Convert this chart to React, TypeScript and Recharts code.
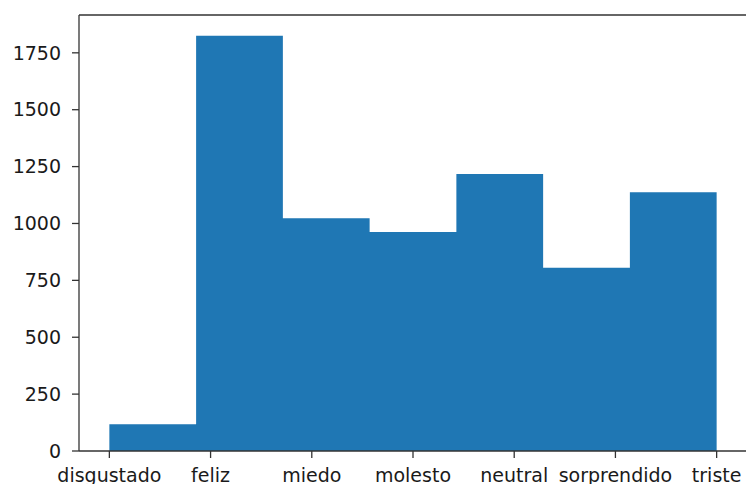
import { AreaChart, Area, XAxis, YAxis, ReferenceLine } from 'recharts'

const categories = ['disgustado', 'feliz', 'miedo', 'molesto', 'neutral', 'sorprendido', 'triste']
const counts = [118, 1825, 1023, 963, 1217, 805, 1137]
const yTicks = [0, 250, 500, 750, 1000, 1250, 1500, 1750]
const xTicks = [0, 1, 2, 3, 4, 5, 6]

// histogram with 7 bins over 0..6 (one per category)
const span = categories.length - 1
const binWidth = span / categories.length
const data = counts
  .map((v, i) => ({ x: i * binWidth, count: v }))
  .concat([{ x: span, count: counts[counts.length - 1] }])

const yMax = Math.max(...counts) * 1.05
const xMin = -span * 0.05
const xMax = span * 1.05

const tickStyle = { fill: '#1a1a1a', fontSize: 19, fontFamily: 'DejaVu Sans' }
const spine = '#333333'

export default function App() {
  return (
    <div style={{ position: 'absolute', left: 0, top: 0, width: 746, height: 484, overflow: 'hidden', background: '#fff' }}>
      <AreaChart width={748} height={484} data={data} margin={{ top: 15, right: 1, left: 0, bottom: 0 }}>
        <XAxis
          dataKey="x"
          type="number"
          domain={[xMin, xMax]}
          ticks={xTicks}
          tickFormatter={(v: number) => categories[v]}
          interval={0}
          allowDataOverflow
          height={33}
          tick={tickStyle}
          tickSize={7}
          tickMargin={11}
          stroke={spine}
          strokeWidth={1.3}
        />
        <YAxis
          type="number"
          domain={[0, yMax]}
          ticks={yTicks}
          allowDataOverflow
          width={79}
          tick={tickStyle}
          tickSize={7}
          tickMargin={11}
          stroke={spine}
          strokeWidth={1.3}
        />
        <ReferenceLine y={yMax} stroke={spine} strokeWidth={1.3} ifOverflow="visible" />
        <ReferenceLine x={xMax} stroke={spine} strokeWidth={1.3} ifOverflow="visible" />
        <Area
          type="stepAfter"
          dataKey="count"
          stroke="none"
          fill="#1f77b4"
          fillOpacity={1}
          dot={false}
          activeDot={false}
          isAnimationActive={false}
        />
      </AreaChart>
    </div>
  )
}
